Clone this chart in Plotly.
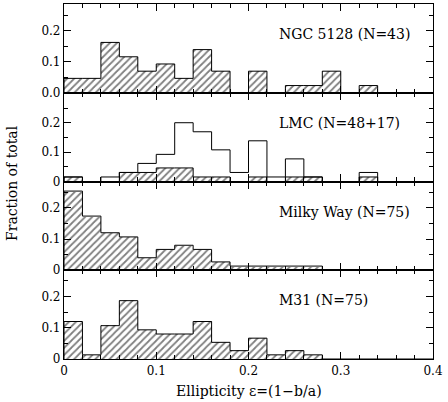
import plotly.graph_objects as go
from plotly.subplots import make_subplots

# ---- data (bins of width 0.02 in ellipticity, 0 .. 0.40) ----
bin_edges = [round(0.02 * i, 2) for i in range(21)]
ngc5128_counts = [2, 2, 7, 5, 3, 4, 2, 6, 3, 0, 3, 0, 1, 1, 3, 0, 1, 0, 0, 0]
ngc5128_n = 43
lmc_all_counts = [1, 0, 1, 2, 4, 6, 13, 11, 7, 2, 9, 1, 5, 1, 0, 0, 2, 0, 0, 0]
lmc_hatched_counts = [1, 0, 0, 2, 2, 3, 3, 1, 1, 0, 1, 0, 1, 1, 0, 0, 1, 0, 0, 0]
lmc_n = 65
mw_counts = [19, 13, 9, 8, 3, 5, 6, 5, 2, 1, 1, 1, 1, 1, 0, 0, 0, 0, 0, 0]
mw_n = 75
m31_counts = [9, 1, 8, 14, 7, 6, 6, 9, 4, 2, 5, 1, 2, 1, 0, 0, 0, 0, 0, 0]
m31_n = 75

panel_labels = ["NGC 5128 (N=43)", "LMC (N=48+17)", "Milky Way (N=75)", "M31 (N=75)"]
y_maxes = [0.287, 0.302, 0.284, 0.284]
x_tickvals = [0, 0.1, 0.2, 0.3, 0.4]
x_ticktext = ["0", "0.1", "0.2", "0.3", "0.4"]
y_tickvals = [0, 0.1, 0.2]
y_ticktext_top = ["0.0", "0.1", "0.2"]
y_ticktext = ["0", "0.1", "0.2"]

FONT = "DejaVu Serif"
W, H = 448, 402
ML, MR, MT, MB = 64, 15, 4, 43

def frac(counts, n):
    return [c / n for c in counts]

centers = [(bin_edges[i] + bin_edges[i + 1]) / 2 for i in range(20)]

fig = make_subplots(rows=4, cols=1, shared_xaxes=True, vertical_spacing=0)

def add_hatched(vals, row):
    fig.add_trace(go.Bar(
        x=centers, y=vals, width=0.02,
        marker=dict(color="black", line=dict(width=0),
                    pattern=dict(shape="/", fgcolor="black", bgcolor="white",
                                 size=5, solidity=0.35)),
        showlegend=False, hoverinfo="skip"), row=row, col=1)

def add_step(vals, row):
    xs = [bin_edges[0]] + bin_edges[:-1] + [bin_edges[-1]]
    ys = [0] + list(vals) + [vals[-1]]
    fig.add_trace(go.Scatter(
        x=xs, y=ys, mode="lines", line=dict(color="black", width=1, shape="hv"),
        showlegend=False, hoverinfo="skip"), row=row, col=1)

v = frac(ngc5128_counts, ngc5128_n)
add_hatched(v, 1); add_step(v, 1)
va = frac(lmc_all_counts, lmc_n)
vh = frac(lmc_hatched_counts, lmc_n)
add_hatched(vh, 2); add_step(vh, 2); add_step(va, 2)
v = frac(mw_counts, mw_n)
add_hatched(v, 3); add_step(v, 3)
v = frac(m31_counts, m31_n)
add_hatched(v, 4); add_step(v, 4)

for r in range(1, 5):
    fig.update_xaxes(range=[0, 0.4], tickvals=x_tickvals, ticktext=x_ticktext,
                     showticklabels=(r == 4), ticks="inside", ticklen=7, tickwidth=1,
                     tickcolor="black", mirror="allticks", showline=True, linewidth=1.2,
                     linecolor="black", showgrid=False, zeroline=False, automargin=False,
                     minor=dict(dtick=0.02, tick0=0, ticks="inside", ticklen=4,
                                tickcolor="black", tickwidth=1, showgrid=False),
                     tickfont=dict(family=FONT, size=12, color="black"),
                     row=r, col=1)
    fig.update_yaxes(range=[0, y_maxes[r - 1]], tickvals=y_tickvals,
                     ticktext=(y_ticktext_top if r == 1 else y_ticktext),
                     ticks="inside", ticklen=7, tickwidth=1, tickcolor="black",
                     mirror="allticks", showline=True, linewidth=1.2, linecolor="black",
                     showgrid=False, zeroline=False, automargin=False,
                     minor=dict(dtick=0.05, tick0=0, ticks="inside", ticklen=4,
                                tickcolor="black", tickwidth=1, showgrid=False),
                     tickfont=dict(family=FONT, size=12, color="black"),
                     row=r, col=1)
    yref = "y domain" if r == 1 else f"y{r} domain"
    xref = "x" if r == 1 else f"x{r}"
    fig.add_annotation(x=0.2305, y=0.66, xref=xref, yref=yref, xanchor="left",
                       yanchor="middle", text=panel_labels[r - 1], showarrow=False,
                       font=dict(family=FONT, size=14, color="black"))

plot_h = H - MT - MB
plot_w = W - ML - MR
fig.add_annotation(x=0.5, y=((H - MB) - 391) / plot_h, xref="paper", yref="paper",
                   text="Ellipticity ε=(1−b/a)", showarrow=False,
                   xanchor="center", yanchor="middle",
                   font=dict(family=FONT, size=14, color="black"))

fig.add_annotation(x=(12 - ML) / plot_w, y=((H - MB) - 183) / plot_h, xref="paper",
                   yref="paper", text="Fraction of total",
                   textangle=-90, showarrow=False, xanchor="center", yanchor="middle",
                   font=dict(family=FONT, size=14, color="black"))

fig.update_layout(width=W, height=H,
                  margin=dict(l=ML, r=MR, t=MT, b=MB, autoexpand=False),
                  paper_bgcolor="white", plot_bgcolor="white", bargap=0,
                  barmode="overlay", showlegend=False)

fig.write_html("out.html", config={"displayModeBar": False},
               post_script="document.body.style.margin='0';document.body.style.padding='0';")
